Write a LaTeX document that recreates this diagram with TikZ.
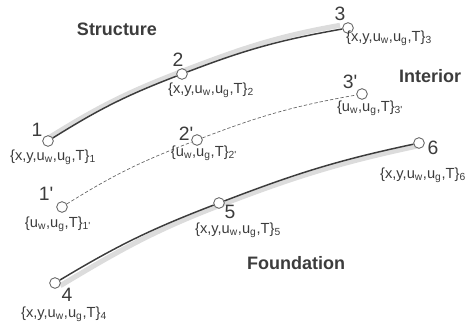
\documentclass[tikz,border=0pt]{standalone}
\usepackage{fontspec}
\setmainfont{Liberation Sans}
\usetikzlibrary{backgrounds}
\definecolor{inkgray}{RGB}{60,60,60}
\definecolor{bandgray}{RGB}{220,220,220}
\newcommand{\dof}[1]{\{x,y,u\textsubscript{w},u\textsubscript{g},T\}\textsubscript{#1}}
\newcommand{\dofi}[1]{\{u\textsubscript{w},u\textsubscript{g},T\}\textsubscript{#1}}
\newcommand{\pr}{\textquotesingle}

\begin{document}
\begin{tikzpicture}[x=0.75pt,y=0.75pt,
    point/.style={circle,draw=inkgray!85,fill=white,line width=0.6pt,minimum size=8pt,inner sep=0pt},
    numlbl/.style={text=inkgray,font=\fontsize{14.5}{16}\selectfont,inner sep=1pt},
    doflbl/.style={text=inkgray,font=\fontsize{11}{12}\selectfont,inner sep=0pt},
    title/.style={text=inkgray,font=\fontsize{13.5}{15}\selectfont\bfseries},
    member/.style={draw=inkgray,line width=1.1pt},
    band/.style={draw=bandgray,line width=3.8pt},
    link/.style={draw=inkgray!80,line width=0.5pt,dash pattern=on 2.5pt off 1.5pt}]
    \useasboundingbox (0,0) rectangle (466,325);

    % Points
    \node[point] (n1) at (48,184) {};
    \node[point] (n2) at (182,251) {};
    \node[point] (n3) at (348,297) {};
    \node[point] (n1p) at (62,118) {};
    \node[point] (n2p) at (197,185) {};
    \node[point] (n3p) at (362,231) {};
    \node[point] (n4) at (55,42) {};
    \node[point] (n5) at (219,122) {};
    \node[point] (n6) at (419,182) {};

    % Members
    \begin{scope}[on background layer]
        \draw[band] ([yshift=2pt]n1.center) to[out=32,in=201] ([yshift=2pt]n2.center) to[out=21,in=190] ([yshift=2pt,xshift=-6pt]n3.center);
        \draw[band] ([yshift=-2pt,xshift=4pt]n4.center) to[out=31,in=201] ([yshift=-2pt]n5.center) to[out=21,in=192] ([yshift=-2pt]n6.center);
        \draw[member] (n1) to[out=32,in=201] (n2) to[out=21,in=190] (n3);
        \draw[member] (n4) to[out=31,in=201] (n5) to[out=21,in=192] (n6);
        \draw[link] (n1p) to[out=32,in=201] (n2p) to[out=21,in=190] (n3p);
    \end{scope}

    % Point numbers
    \node[numlbl] (k1) at ([shift={(-11,11)}]n1) {1};
    \node[numlbl] (k2) at ([shift={(-4,14)}]n2) {2};
    \node[numlbl] (k3) at ([shift={(-8,14)}]n3) {3};
    \node[numlbl] (k1p) at ([shift={(-16,13)}]n1p) {1\pr};
    \node[numlbl] (k2p) at ([shift={(-11,6)}]n2p) {2\pr};
    \node[numlbl] (k3p) at ([shift={(-12,12)}]n3p) {3\pr};
    \node[numlbl] (k4) at ([shift={(12,-12)}]n4) {4};
    \node[numlbl] (k5) at ([shift={(11,-9)}]n5) {5};
    \node[numlbl] (k6) at ([shift={(14,-5)}]n6) {6};

    % Degrees of freedom
    \node[doflbl] (d1) at ([shift={(5,-16)}]n1) {\dof{1}};
    \node[doflbl] (d2) at ([shift={(29,-16)}]n2) {\dof{2}};
    \node[doflbl] (d3) at ([shift={(41,-10)}]n3) {\dof{3}};
    \node[doflbl] (d1p) at ([shift={(-4,-17)}]n1p) {\dofi{1\pr}};
    \node[doflbl] (d2p) at ([shift={(7,-13)}]n2p) {\dofi{2\pr}};
    \node[doflbl] (d3p) at ([shift={(8,-14)}]n3p) {\dofi{3\pr}};
    \node[doflbl] (d4) at ([shift={(9,-31)}]n4) {\dof{4}};
    \node[doflbl] (d5) at ([shift={(19,-27)}]n5) {\dof{5}};
    \node[doflbl] (d6) at ([shift={(4,-32)}]n6) {\dof{6}};

    % Regions
    \node[title] (structure) at (117,296) {Structure};
    \node[title] (interior) at (430,249) {Interior};
    \node[title] (foundation) at (296,62) {Foundation};
\end{tikzpicture}
\end{document}
